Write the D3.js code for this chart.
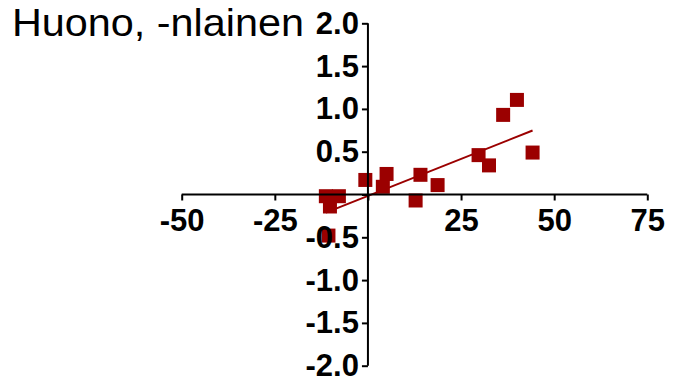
<!DOCTYPE html>
<html>
<head>
<meta charset="utf-8">
<script src="https://cdn.jsdelivr.net/npm/d3@7/dist/d3.min.js"></script>
<style>
  html, body { margin: 0; padding: 0; background: #fff; }
  svg { display: block; }
</style>
</head>
<body>
<svg id="chart" width="673" height="383"></svg>
<script>
// Scatter of change values with a linear fit, axes crossing at the origin
const title = "Huono, -nlainen";

const xValues = [-11.3, -7.8, -10.2, -10.6, -0.7, 5.0, 4.0, 12.8, 14.1, 18.7, 29.7, 32.5, 36.3, 40.0, 44.2];
const yValues = [-0.02, -0.02, -0.14, -0.48, 0.17, 0.24, 0.09, -0.07, 0.23, 0.11, 0.46, 0.34, 0.93, 1.105, 0.49];

const xTicks = [-50, -25, 0, 25, 50, 75];
const xTickLabels = ["-50", "-25", "", "25", "50", "75"];
const yTicks = [-2.0, -1.5, -1.0, -0.5, 0.0, 0.5, 1.0, 1.5, 2.0];
const yTickLabels = ["-2.0", "-1.5", "-1.0", "-0.5", "", "0.5", "1.0", "1.5", "2.0"];

// Linear fit: y = slope * x + intercept, drawn over the x range of the data
const fitSlope = 0.0173;
const fitIntercept = -0.017;

const points = xValues.map((v, i) => ({ x: v, y: yValues[i] }));

const svg = d3.select("#chart");
const red = "#9b0000";
const font = "'Liberation Sans', Arial, Helvetica, sans-serif";

const x = d3.scaleLinear().domain([-50, 75]).range([181.7, 647.3]);
const y = d3.scaleLinear().domain([-2, 2]).range([365.7, 23.3]);

// Fit line (below the markers)
const xr = d3.extent(xValues);
svg.append("line")
  .attr("x1", x(xr[0])).attr("y1", y(fitSlope * xr[0] + fitIntercept))
  .attr("x2", x(xr[1])).attr("y2", y(fitSlope * xr[1] + fitIntercept))
  .attr("stroke", red).attr("stroke-width", 2);

// Markers
const sq = 14;
svg.append("g").selectAll("rect").data(points).join("rect")
  .attr("x", d => x(d.x) - sq / 2)
  .attr("y", d => y(d.y) - sq / 2)
  .attr("width", sq).attr("height", sq)
  .attr("fill", red);

// X axis through y = 0
const xAxis = d3.axisBottom(x)
  .tickValues(xTicks)
  .tickFormat((d, i) => xTickLabels[i])
  .tickSize(6).tickPadding(8);
const gx = svg.append("g").attr("transform", `translate(0,${y(0)})`).call(xAxis);

// Y axis through x = 0
const yAxis = d3.axisLeft(y)
  .tickValues(yTicks)
  .tickFormat((d, i) => yTickLabels[i])
  .tickSize(6).tickPadding(3);
const gy = svg.append("g").attr("transform", `translate(${x(0)},0)`).call(yAxis);

[gx, gy].forEach(g => {
  g.select(".domain").attr("stroke", "#000").attr("stroke-width", 2);
  g.selectAll(".tick line").attr("stroke", "#000").attr("stroke-width", 2);
  g.selectAll(".tick text")
    .attr("fill", "#000")
    .style("font-family", font)
    .style("font-size", "31px")
    .style("font-weight", "bold");
});
gx.selectAll(".domain").attr("d", `M${x(-50)},0H${x(75)}`);
gy.selectAll(".domain").attr("d", `M0,${y(2)}V${y(-2)}`);

// Title
svg.append("text")
  .attr("x", 12).attr("y", 36)
  .attr("textLength", 292).attr("lengthAdjust", "spacingAndGlyphs")
  .style("font-family", font)
  .style("font-size", "39px")
  .attr("fill", "#000")
  .text(title);
</script>
</body>
</html>
